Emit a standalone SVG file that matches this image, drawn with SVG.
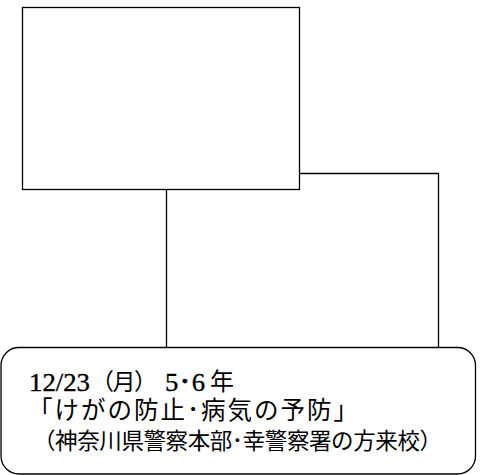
<svg xmlns="http://www.w3.org/2000/svg" width="493" height="475" viewBox="0 0 493 475">
<style>
.box{fill:#fff;stroke:#000;stroke-width:1.3}
.conn{fill:none;stroke:#000;stroke-width:1.3}
.t{font-family:"Liberation Serif","Noto Sans CJK JP",serif;fill:#000;stroke:#000;stroke-width:0.35}
.j{font-family:"Noto Sans CJK JP",sans-serif;fill:#000}
</style>
<rect width="493" height="475" fill="#fff"/>
<g id="connectors">
<path class="conn" d="M299.5 173.5 H438.5 V347.5"/>
<path class="conn" d="M166.5 189.5 V347.5"/>
</g>
<g id="node-top">
<rect class="box" x="22.5" y="7.5" width="277" height="182"/>
</g>
<g id="node-bottom">
<rect class="box" x="1" y="347.5" width="474.5" height="126.5" rx="18" ry="18"/>
<text class="t" x="29" y="391" font-size="25" textLength="61" lengthAdjust="spacingAndGlyphs">12/23</text>
<text class="j" x="91" y="390" font-size="23" textLength="66" lengthAdjust="spacing">（月）</text>
<text class="t" x="165" y="391" font-size="25" textLength="40" lengthAdjust="spacingAndGlyphs">5･6</text>
<text class="j" x="210" y="390" font-size="24">年</text>
<text class="j" x="28" y="419" font-size="24.5" textLength="330" lengthAdjust="spacing">「けがの防止･病気の予防」</text>
<text class="j" x="33" y="449" font-size="22.5" textLength="409" lengthAdjust="spacing">（神奈川県警察本部･幸警察署の方来校）</text>
</g>
</svg>
